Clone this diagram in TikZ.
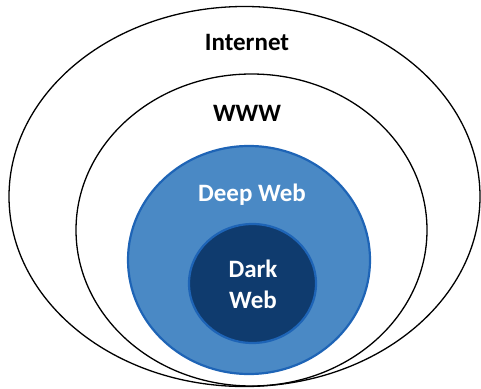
\documentclass[tikz,border=0pt]{standalone}
\usepackage{fontspec}
\setmainfont{Carlito}
\usepackage{tikz}
\usetikzlibrary{shapes.geometric}
\usepackage{xcolor}
\definecolor{deep-blue}{RGB}{74,137,197}
\definecolor{dark-blue}{RGB}{15,59,110}
\definecolor{rim-blue}{RGB}{30,100,182}
\tikzstyle{layer}=[ellipse, draw, inner sep=0pt]
\tikzstyle{plain}=[draw=black, line width=1.3pt]
\tikzstyle{bluerim}=[draw=rim-blue, line width=2.2pt]
\tikzstyle{label}=[font=\fontsize{25}{31}\selectfont\bfseries, align=center]

\begin{document}
\begin{tikzpicture}[x=1pt,y=-1pt]
	\useasboundingbox (0,0) rectangle (481,388);
	\node[layer, plain, minimum width=471pt, minimum height=380pt] (internet) at (244.5,196.5) {};
	\node[layer, plain, minimum width=351pt, minimum height=312pt] (www) at (251.5,230) {};
	\node[layer, bluerim, fill=deep-blue, minimum width=242pt, minimum height=228pt] (deep) at (249,260) {};
	\node[layer, bluerim, fill=dark-blue, minimum width=127pt, minimum height=119pt] (dark) at (252.5,283.5) {};
	\node[label] (internettext) at (247,42) {Internet};
	\node[label] (wwwtext) at (247,113) {WWW};
	\node[label, text=white] (deeptext) at (252,195) {Deep Web};
	\node[label, text=white] (darktext) at (253,284) {Dark\\Web};
\end{tikzpicture}
\end{document}
